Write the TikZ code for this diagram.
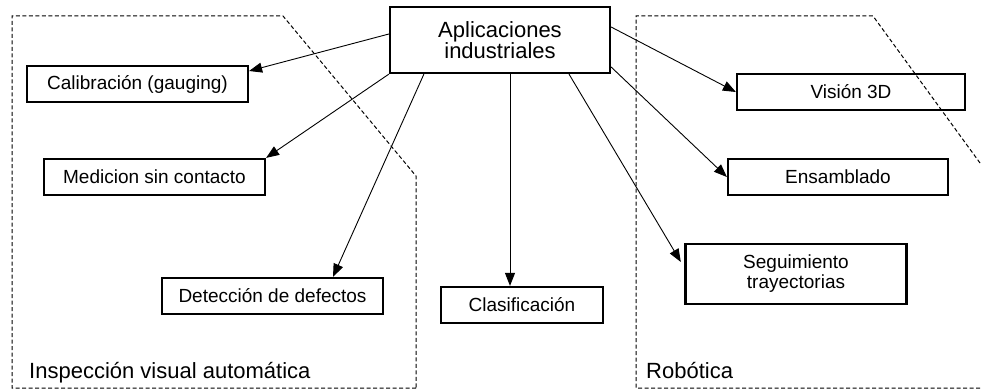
\documentclass[tikz,border=0pt]{standalone}
\usepackage{fontspec}
\setmainfont{Liberation Sans}
\usetikzlibrary{arrows.meta}
\begin{document}
\begin{tikzpicture}[x=1pt,y=-1pt,
  box/.style={draw, line width=2.2pt, rectangle, inner sep=0pt, align=center,
    font=\fontsize{19}{20}\selectfont, minimum height=36pt},
  arr/.style={line width=0.9pt, -{Triangle[length=13pt,width=10pt]}},
  region/.style={line width=1pt, dash pattern=on 4pt off 2.5pt},
  title/.style={anchor=base west, inner sep=0pt, font=\fontsize{22}{22}\selectfont}]
\useasboundingbox (0,0) rectangle (982,390);
% regions
\draw[region] (416,388) -- (12,388) -- (12,16) -- (283,16) -- (416,176) -- cycle;
\draw[region] (980,163) -- (873,16) -- (636,16) -- (636,388) -- (982,388);
\node[title] (insp) at (29,378) {Inspección visual automática};
\node[title] (rob) at (646,378) {Robótica};
% nodes
\node[box, minimum width=220pt, minimum height=66pt, font=\fontsize{22}{21}\selectfont] (app) at (500,40) {Aplicaciones\\industriales};
\node[box, minimum width=221pt] (cal) at (137.5,84) {Calibración (gauging)};
\node[box, minimum width=221pt] (med) at (154.5,177) {Medicion sin contacto};
\node[box, minimum width=221pt] (det) at (272.5,296) {Detección de defectos};
\node[box, minimum width=162pt] (cla) at (522,305) {Clasificación};
\node[box, minimum width=228pt] (vis) at (851,92) {Visión 3D};
\node[box, minimum width=220pt] (ens) at (838,177) {Ensamblado};
\node[box, minimum width=221pt, minimum height=60pt] (seg) at (796,274) {Seguimiento\\trayectorias};
% connectors
\draw[arr] ([yshift=6pt]app.west) -- ([yshift=13pt]cal.east);
\draw[arr] (app.south west) -- (med.north east);
\draw[arr] ([xshift=35pt]app.south west) -- ([xshift=60.5pt]det.north);
\draw[arr] ([xshift=10pt]app.south) -- ([xshift=-12pt]cla.north);
\draw[arr, shorten >=7pt] ([xshift=69pt]app.south) -- ([yshift=6pt]seg.west);
\draw[arr] ([yshift=-27pt]app.east) -- (ens.west);
\draw[arr] ([yshift=13pt]app.east) -- (vis.west);
\end{tikzpicture}
\end{document}
